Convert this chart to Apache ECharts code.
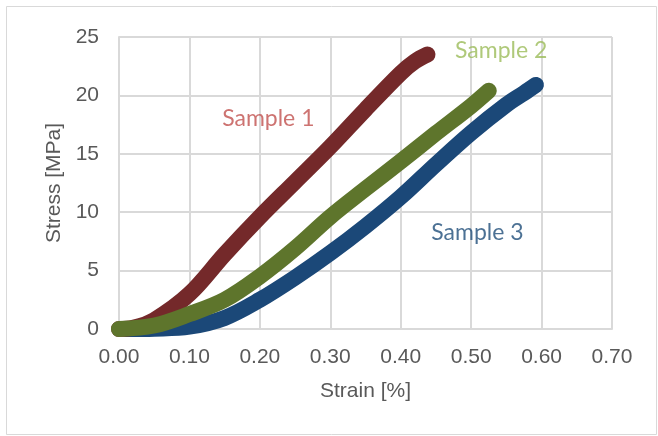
<!DOCTYPE html>
<html>
<head>
<meta charset="utf-8">
<script src="https://cdn.jsdelivr.net/npm/echarts@6/dist/echarts.min.js"></script>
<style>
html,body{margin:0;padding:0;background:#fff;}
#chart{width:658px;height:436px;}
</style>
</head>
<body>
<div id="chart"></div>
<script>
// Strain [%] and Stress [MPa]
var sample1Strain = [0, 0.02, 0.05, 0.1, 0.15, 0.2, 0.25, 0.3, 0.35, 0.4, 0.42, 0.438];
var sample1Stress = [0, 0.1, 0.77, 3.0, 6.4, 9.6, 12.6, 15.6, 18.8, 21.9, 22.9, 23.5];

var sample2Strain = [0, 0.05, 0.1, 0.15, 0.2, 0.25, 0.3, 0.35, 0.4, 0.45, 0.5, 0.525];
var sample2Stress = [0, 0.3, 1.28, 2.5, 4.5, 6.9, 9.6, 12.0, 14.35, 16.75, 19.1, 20.4];

var sample3Strain = [0.01, 0.05, 0.1, 0.15, 0.2, 0.25, 0.3, 0.35, 0.4, 0.45, 0.5, 0.55, 0.575, 0.592];
var sample3Stress = [0, 0.03, 0.2, 0.95, 2.5, 4.4, 6.5, 8.8, 11.3, 14.1, 16.8, 19.2, 20.2, 20.9];

var sampleNames = ['Sample 1', 'Sample 2', 'Sample 3'];
var labelStrain = [0.212, 0.5426, 0.509];
var labelStress = [18.0, 23.8, 8.27];

var xTicks = [0, 0.1, 0.2, 0.3, 0.4, 0.5, 0.6, 0.7];
var yTicks = [0, 5, 10, 15, 20, 25];

var lineColors = ['#74292A', '#5E752C', '#1B4878'];
var labelColors = ['#C0504D', '#9BBB59', '#1F4E79'];

function pairs(xs, ys) {
  return xs.map(function (x, i) { return [x, ys[i]]; });
}

var chart = echarts.init(document.getElementById('chart'), null, {renderer: 'canvas'});

function lineSeries(name, data, color, z) {
  return {
    name: name,
    type: 'line',
    data: data,
    showSymbol: false,
    symbol: 'none',
    smooth: 0.35,
    clip: false,
    z: z,
    lineStyle: {color: color, width: 16, cap: 'round', join: 'round'},
    emphasis: {disabled: true}
  };
}

var labelData = sampleNames.map(function (n, i) {
  return {
    name: n,
    value: [labelStrain[i], labelStress[i]],
    label: {color: labelColors[i]}
  };
});

var option = {
  animation: false,
  backgroundColor: '#ffffff',
  graphic: [{
    type: 'rect',
    shape: {x: 6.5, y: 6.5, width: 650, height: 428},
    style: {fill: 'none', stroke: '#D9D9D9', lineWidth: 1},
    silent: true
  }],
  grid: {left: 119, right: 46, top: 37, bottom: 107, containLabel: false},
  xAxis: {
    type: 'value',
    min: xTicks[0],
    max: xTicks[xTicks.length - 1],
    interval: 0.1,
    name: 'Strain [%]',
    nameLocation: 'middle',
    nameGap: 62,
    nameTextStyle: {color: '#595959', fontSize: 21, fontFamily: 'Liberation Sans', verticalAlign: 'middle'},
    axisLine: {show: true, lineStyle: {color: '#D9D9D9', width: 2}},
    axisTick: {show: false},
    axisLabel: {
      color: '#595959', fontSize: 21, fontFamily: 'Liberation Sans', margin: 18,
      formatter: function (v) { return v.toFixed(2); }
    },
    splitLine: {show: true, lineStyle: {color: '#D9D9D9', width: 2}}
  },
  yAxis: {
    type: 'value',
    min: yTicks[0],
    max: yTicks[yTicks.length - 1],
    interval: 5,
    name: 'Stress [MPa]',
    nameLocation: 'middle',
    nameGap: 63,
    nameRotate: 90,
    nameTextStyle: {color: '#595959', fontSize: 21, fontFamily: 'Liberation Sans', verticalAlign: 'middle'},
    axisLine: {show: true, lineStyle: {color: '#D9D9D9', width: 2}},
    axisTick: {show: false},
    axisLabel: {color: '#595959', fontSize: 21, fontFamily: 'Liberation Sans', margin: 20},
    splitLine: {show: true, lineStyle: {color: '#D9D9D9', width: 2}}
  },
  series: [
    lineSeries(sampleNames[2], pairs(sample3Strain, sample3Stress), lineColors[2], 2),
    lineSeries(sampleNames[0], pairs(sample1Strain, sample1Stress), lineColors[0], 3),
    lineSeries(sampleNames[1], pairs(sample2Strain, sample2Stress), lineColors[1], 4),
    {
      type: 'scatter',
      data: labelData,
      symbolSize: 0,
      silent: true,
      z: 10,
      clip: false,
      label: {
        show: true,
        position: 'inside',
        formatter: function (p) { return p.name; },
        fontFamily: 'Lato',
        fontSize: 23,
        align: 'center',
        verticalAlign: 'middle'
      }
    }
  ]
};
chart.setOption(option);
</script>
</body>
</html>
